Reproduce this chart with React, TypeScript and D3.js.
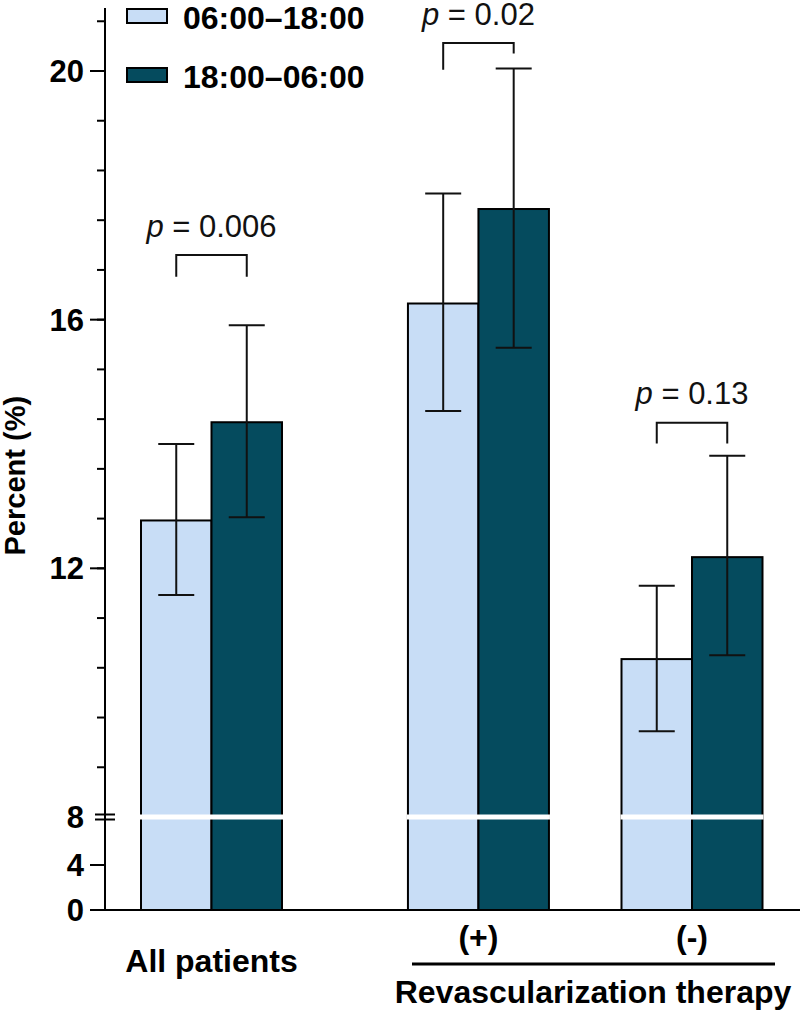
import * as d3 from "d3";

// Groups and series
const groups = ["All patients", "(+)", "(-)"];
const series = ["06:00–18:00", "18:00–06:00"];
const colors = ["#c8ddf6", "#054b5e"];

// Means and error bar ends (percent)
const dayMean = [12.77, 16.26, 10.54];
const dayLow = [11.57, 14.53, 9.38];
const dayHigh = [14.0, 18.03, 11.72];
const nightMean = [14.35, 17.78, 12.18];
const nightLow = [12.82, 15.55, 10.6];
const nightHigh = [15.91, 20.04, 13.81];

// Significance brackets
const pLabels = ["0.006", "0.02", "0.13"];
const pTop = [17.04, 20.45, 14.34];
const pLegLeft = [16.69, 20.02, 14.01];
const pLegRight = [16.69, 20.28, 14.01];

// Axis ticks
const upperTicks = [8, 12, 16, 20];
const lowerTicks = [0, 4];
const minorTicks = d3.range(8.8, 21, 0.8);

const FONT = "'Liberation Sans', Arial, Helvetica, sans-serif";

export default function App() {
  const width = 800;
  const height = 1013;

  // broken y axis: 0..8 compressed, 8..21 expanded
  const yUpper = d3.scaleLinear().domain([8, 20]).range([817, 71]);
  const yLower = d3.scaleLinear().domain([0, 8]).range([910, 820]);
  const axisX = 105;
  const breakY = yUpper(8);

  // group centres: gap between "All patients" and the revascularization pair
  const slot = (i: number) => (i === 0 ? 0 : i + 0.25);
  const xGroup = d3.scaleLinear().domain([0, 2.25]).range([211.5, 692]);
  const xInner = d3.scaleBand().domain(series).range([-70.5, 70.5]);
  const bw = xInner.bandwidth();

  const data = groups.map((g, i) => ({
    group: g,
    cx: xGroup(slot(i)),
    bars: [
      { s: series[0], mean: dayMean[i], lo: dayLow[i], hi: dayHigh[i] },
      { s: series[1], mean: nightMean[i], lo: nightLow[i], hi: nightHigh[i] },
    ],
  }));

  const cap = 18;

  return (
    <svg
      width={width}
      height={height}
      style={{ position: "absolute", left: 0, top: 0, background: "#fff" }}
      fontFamily={FONT}
    >
      {/* bars */}
      {data.map((d) => (
        <g key={d.group}>
          {d.bars.map((b, j) => {
            const x = d.cx + (xInner(b.s) ?? 0);
            return (
              <rect
                key={b.s}
                x={x}
                y={yUpper(b.mean)}
                width={bw}
                height={yLower(0) - yUpper(b.mean)}
                fill={colors[j]}
                stroke="#000"
                strokeWidth={2}
              />
            );
          })}
          {/* white break band */}
          <rect
            x={d.cx - bw - 1}
            y={breakY - 2.5}
            width={bw * 2 + 2}
            height={5}
            fill="#fff"
          />
          {/* error bars */}
          {d.bars.map((b) => {
            const x = d.cx + (xInner(b.s) ?? 0) + bw / 2;
            return (
              <g key={b.s} stroke="#111" strokeWidth={2}>
                <line x1={x} x2={x} y1={yUpper(b.hi)} y2={yUpper(b.lo)} />
                <line x1={x - cap} x2={x + cap} y1={yUpper(b.hi)} y2={yUpper(b.hi)} />
                <line x1={x - cap} x2={x + cap} y1={yUpper(b.lo)} y2={yUpper(b.lo)} />
              </g>
            );
          })}
        </g>
      ))}

      {/* significance brackets */}
      {data.map((d, i) => {
        const xl = d.cx + (xInner(series[0]) ?? 0) + bw / 2;
        const xr = d.cx + (xInner(series[1]) ?? 0) + bw / 2;
        return (
          <g key={"p" + i}>
            <path
              d={`M${xl},${yUpper(pLegLeft[i])}V${yUpper(pTop[i])}H${xr}V${yUpper(pLegRight[i])}`}
              fill="none"
              stroke="#111"
              strokeWidth={2}
            />
            <text
              x={d.cx}
              y={yUpper(pTop[i]) - 18.5}
              textAnchor="middle"
              fontSize={31}
              fill="#111"
            >
              <tspan fontStyle="italic">p</tspan> = {pLabels[i]}
            </text>
          </g>
        );
      })}

      {/* y axis */}
      <line x1={axisX} x2={axisX} y1={8} y2={yLower(0)} stroke="#000" strokeWidth={2} />
      {minorTicks.map((t) => (
        <line
          key={"m" + t}
          x1={axisX - 8}
          x2={axisX}
          y1={yUpper(t)}
          y2={yUpper(t)}
          stroke="#000"
          strokeWidth={2}
        />
      ))}
      {upperTicks.map((t) => (
        <g key={"u" + t}>
          {t !== 8 && (
            <line x1={axisX - 15} x2={axisX} y1={yUpper(t)} y2={yUpper(t)} stroke="#000" strokeWidth={2} />
          )}
          <text
            x={axisX - 21}
            y={yUpper(t)}
            dy="0.36em"
            textAnchor="end"
            fontSize={31}
            fontWeight="bold"
          >
            {t}
          </text>
        </g>
      ))}
      {lowerTicks.map((t) => (
        <g key={"l" + t}>
          <line x1={axisX - 15} x2={axisX} y1={yLower(t)} y2={yLower(t)} stroke="#000" strokeWidth={2} />
          <text
            x={axisX - 21}
            y={yLower(t)}
            dy="0.36em"
            textAnchor="end"
            fontSize={31}
            fontWeight="bold"
          >
            {t}
          </text>
        </g>
      ))}
      {/* axis break marks */}
      <line x1={axisX - 10} x2={axisX + 10} y1={breakY - 2.5} y2={breakY - 2.5} stroke="#000" strokeWidth={2} />
      <line x1={axisX - 10} x2={axisX + 10} y1={breakY + 2.5} y2={breakY + 2.5} stroke="#000" strokeWidth={2} />

      <text
        transform={`translate(25,${yUpper(13.49)}) rotate(-90)`}
        textAnchor="middle"
        fontSize={29}
        fontWeight="bold"
      >
        Percent (%)
      </text>

      {/* x axis */}
      <line x1={axisX - 15} x2={width} y1={yLower(0)} y2={yLower(0)} stroke="#000" strokeWidth={2} />

      {/* category labels */}
      <text x={data[0].cx} y={972} textAnchor="middle" fontSize={32} fontWeight="bold">
        {groups[0]}
      </text>
      {data.slice(1).map((d) => (
        <text key={d.group} x={d.cx} y={948} textAnchor="middle" fontSize={32} fontWeight="bold">
          {d.group}
        </text>
      ))}
      <line x1={412} x2={775} y1={964} y2={964} stroke="#000" strokeWidth={3} />
      <text x={593} y={1003} textAnchor="middle" fontSize={32} fontWeight="bold">
        Revascularization therapy
      </text>

      {/* legend */}
      {series.map((s, i) => (
        <g key={s} transform={`translate(127,${9 + i * 59})`}>
          <rect width={40} height={14} fill={colors[i]} stroke="#000" strokeWidth={2} />
          <text x={56} y={7} dy="0.42em" fontSize={32} fontWeight="bold">
            {s}
          </text>
        </g>
      ))}
    </svg>
  );
}
